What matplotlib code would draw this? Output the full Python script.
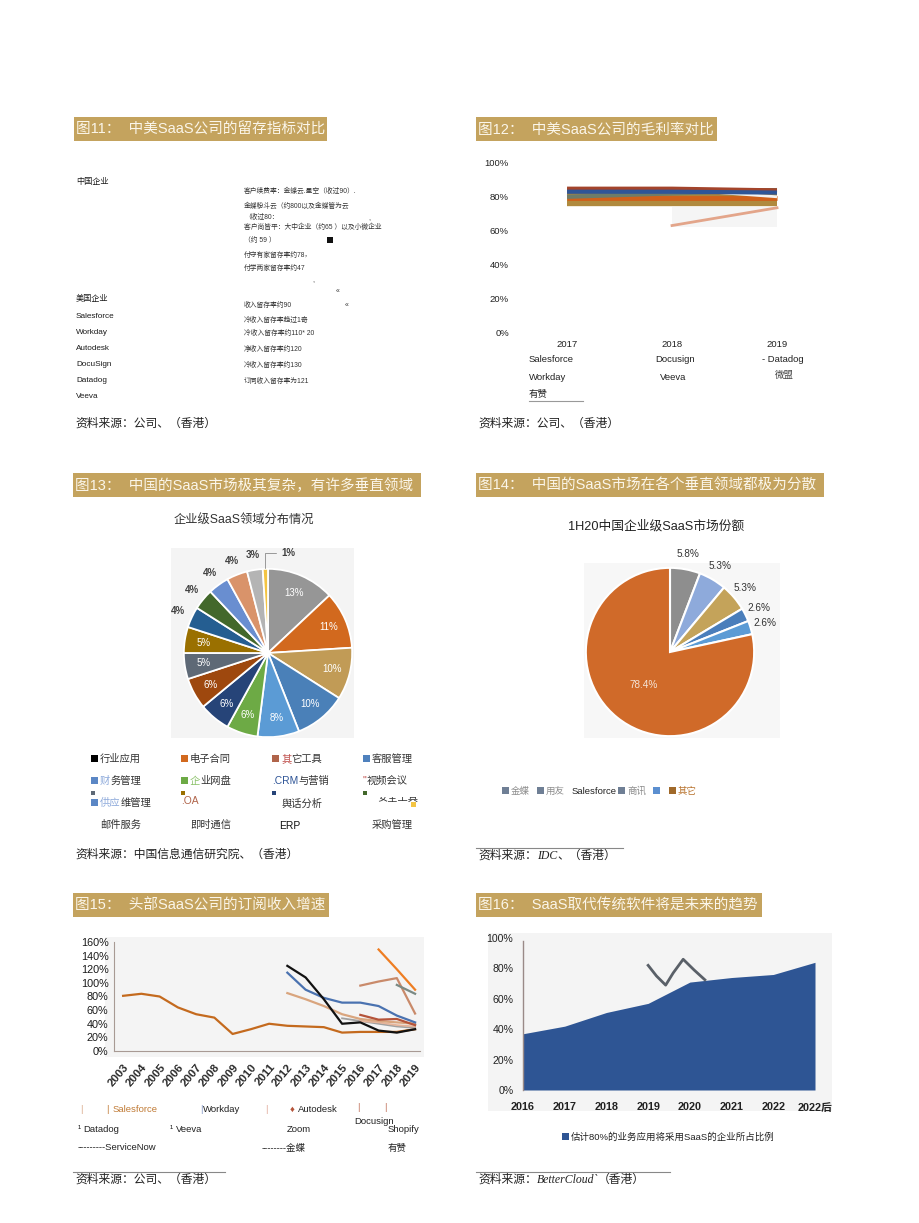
import matplotlib
matplotlib.use('Agg')
import matplotlib.pyplot as plt
from matplotlib.patches import Rectangle
from matplotlib.lines import Line2D
import numpy as np

plt.rcParams['font.family'] = ['Liberation Sans', 'Noto Sans CJK SC', 'DejaVu Sans']

W, H = 920, 1223
fig = plt.figure(figsize=(W / 100, H / 100), dpi=100)
fig.patch.set_facecolor('white')
renderer = fig.canvas.get_renderer()

# ---------------- data ----------------
# Fig 11 (text table)
p11_left = ['中国企业', '美国企业', 'Salesforce', 'Workday', 'Autodesk', 'DocuSign', 'Datadog', 'Veeva']
p11_right = ['客户续费率：金蝶云.星空（收过90）.', '金蝶粉斗云（约800以及金蝶管为云', '（收过80：',
             '客户尚皆平：大中企业（约65 ）以及小微企业', '（约 59 ）', '付守有家留存率约78，', '付学两家留存率约47',
             '收入留存率约90', '冷收入留存率趋过1奇', '冷收入留存率约110* 20', '净收入留存率约120',
             '冷收入留存率约130', '订同收入留存率为121']

# Fig 12 (gross margin, %)
p12_years = [2017, 2018, 2019]
p12_salesforce = [85, 85, 84]
p12_workday = [83, 83, 82.5]
p12_docusign = [80, 82, 84]
p12_veeva = [86, 84.5, 80]
p12_youzan = [79.5, 79.5, 79.5]
p12_weimeng = [77, 77, 77]
p12_datadog = [np.nan, 63, 73.5]
p12_yticks = [0, 20, 40, 60, 80, 100]

# Fig 13 (pie)
p13_labels = ['行业应用', '电子合同', '其它工具', '客服管理', '财务管理', '企业网盘', 'CRM与营销', '视频会议',
              '供应维管理', 'OA', '舆话分析', '安全工具', '邮件服务', '即时通信', 'ERP', '采购管理']
p13_values = [13, 11, 10, 10, 8, 6, 6, 6, 5, 5, 4, 4, 4, 4, 3, 1]

# Fig 14 (pie)
p14_labels = ['金蝶', '用友', 'Salesforce', '商讯', '其他厂商', '其它']
p14_values = [5.8, 5.3, 5.3, 2.6, 2.6, 78.4]

# Fig 15 (subscription revenue growth, %)
p15_salesforce_years = list(range(2003, 2020))
p15_salesforce = [81, 84, 80, 64, 54, 49, 25, 32, 40, 37, 36, 35, 27, 28, 28, 28, 32]
p15_years_b = list(range(2012, 2020))
p15_workday = [115, 90, 78, 71, 71, 66, 52, 42]
p15_servicenow = [125, 108, 76, 40, 42, 30, 27, 32]
p15_autodesk = [85, 76, 66, 54, 47, 44, 42, 40]
p15_years_c = [2017, 2018, 2019]
p15_zoom = [149, 120, 90]
p15_years_d = [2016, 2017, 2018, 2019]
p15_docusign = [96, 102, 107, 55]
p15_shopify = [53, 46, 47, 38]
p15_veeva = [44, 42, 38, 36]
p15_years_e = [2018, 2019]
p15_datadog = [97, 84]
p15_years_f = [2015, 2016, 2017, 2018, 2019]
p15_kingdee = [48, 44, 40, 36, 34]
p15_yticks = [0, 20, 40, 60, 80, 100, 120, 140, 160]

# Fig 16 (area)
p16_cats = ['2016', '2017', '2018', '2019', '2020', '2021', '2022', '2022后']
p16_values = [37, 42, 51, 57, 71, 74, 76, 84]
p16_wave_x = [3.0, 3.2, 3.42, 3.6, 3.84, 4.1, 4.36]
p16_wave_y = [82, 75, 69, 77, 86, 79, 72.5]
p16_yticks = [0, 20, 40, 60, 80, 100]


# ---------------- helpers ----------------
def fx(x):
    return x / W


def fy(y):
    return 1 - y / H


def T(x, y, s, size=7, color='#222222', ha='left', va='center', **kw):
    return fig.text(fx(x), fy(y), s, fontsize=size, color=color, ha=ha, va=va, **kw)


def rect(x0, y0, x1, y1, color, z=0):
    fig.add_artist(Rectangle((fx(x0), fy(y1)), (x1 - x0) / W, (y1 - y0) / H,
                             transform=fig.transFigure, facecolor=color, edgecolor='none', zorder=z))


def seq(x, y, parts, size=7, sq=7, **kw):
    """parts: list of (text, color[, extra-kwargs]); text None draws a square."""
    for p in parts:
        s, c = p[0], p[1]
        extra = dict(kw)
        if len(p) > 2:
            extra.update(p[2])
        if s is None:
            rect(x, y - sq / 2 - 0.5, x + sq, y + sq / 2 - 0.5, c, z=3)
            x += sq + 2
        else:
            t = T(x, y, s, size=size, color=c, **extra)
            x += t.get_window_extent(renderer).width
    return x


def hline(x0, x1, y, color='#999999', lw=0.8):
    fig.add_artist(Line2D([fx(x0), fx(x1)], [fy(y), fy(y)], transform=fig.transFigure, color=color, lw=lw))


def axes_px(x0, y0, x1, y1):
    ax = fig.add_axes([fx(x0), fy(y1), (x1 - x0) / W, (y1 - y0) / H])
    ax.patch.set_alpha(0)
    return ax


SERIF_I = {'family': ['Liberation Serif', 'DejaVu Serif'], 'style': 'italic'}
GOLD = '#C4A35E'
TITLE_FG = '#FBF6EA'
bars = [(74, 117, 327, 141, '图11：  中美SaaS公司的留存指标对比'),
        (476, 117, 717, 141, '图12：  中美SaaS公司的毛利率对比'),
        (73, 473, 421, 497, '图13：  中国的SaaS市场极其复杂，有许多垂直领域'),
        (476, 473, 824, 497, '图14：  中国的SaaS市场在各个垂直领域都极为分散'),
        (73, 893, 329, 917, '图15：  头部SaaS公司的订阅收入增速'),
        (476, 893, 762, 917, '图16：  SaaS取代传统软件将是未来的趋势')]
for x0, y0, x1, y1, s in bars:
    rect(x0, y0, x1, y1, GOLD)
    T(x0 + 2, (y0 + y1) / 2 + 0.5, s, size=10.5, color=TITLE_FG)

# ---------------- Fig 11 ----------------
left_y = [182, 299, 316, 333, 349, 365, 381, 397]
for s, y in zip(p11_left, left_y):
    T(76, y, s, size=5.9, color='#1A1A1A')
right_y = [191, 206, 217, 227, 240, 255, 268, 305, 320, 333, 349, 365, 381]
for s, y in zip(p11_right, right_y):
    T(244, y, s, size=4.9, color='#333333')
T(368, 219, ',', size=5, color='#333333')
rect(327, 237, 333, 243, '#111111')
T(312, 281, ',', size=5, color='#333333')
T(336, 292, '«', size=5, color='#333333')
T(345, 306, '«', size=5, color='#333333')
T(75, 424, '资料来源：公司、（香港）', size=8.5, color='#222222')

# ---------------- Fig 12 ----------------
ax12 = axes_px(520, 163, 800, 332)
ax12.set_xlim(2016.552, 2019.219)
ax12.set_ylim(0, 100)
ax12.fill_between([2018, 2019], 62, 74, color='#F5F5F5', lw=0, zorder=1)
ax12.fill_between(p12_years, 75, 85, color='#A8843F', lw=0, zorder=2)
ax12.plot(p12_years, p12_weimeng, color='#B08A3E', lw=6, zorder=3, solid_capstyle='butt')
ax12.plot(p12_years, p12_youzan, color='#D0601A', lw=3.5, zorder=4, solid_capstyle='butt')
ax12.plot(p12_years, p12_docusign, color='#6E7C68', lw=3, zorder=5, solid_capstyle='butt')
ax12.plot(p12_years[1:], p12_veeva[1:], color='#F2F2F2', lw=2, zorder=6, solid_capstyle='butt')
ax12.plot(p12_years, p12_workday, color='#2F5597', lw=3, zorder=7, solid_capstyle='butt')
ax12.plot(p12_years, p12_salesforce, color='#A3442B', lw=2.5, zorder=6, solid_capstyle='butt')
ax12.plot(p12_years, p12_datadog, color='#E3A58A', lw=2, zorder=5)
ax12.set_yticks(p12_yticks)
ax12.set_yticklabels([f'{v}%' for v in p12_yticks], fontsize=6.8, color='#222222')
ax12.set_xticks(p12_years)
ax12.set_xticklabels([str(v) for v in p12_years], fontsize=6.8, color='#222222')
ax12.tick_params(length=0, pad=8)
ax12.tick_params(axis='x', pad=6)
for s in ax12.spines.values():
    s.set_visible(False)
T(529, 360, 'Salesforce', size=6.8)
T(529, 378, 'Workday', size=6.8)
T(529, 394, '有赞', size=6.8)
hline(529, 583, 401, color='#999999', lw=0.8)
T(655, 360, 'Docusign', size=6.8)
T(660, 377, 'Veeva', size=6.8)
T(762, 359, '- Datadog', size=6.8)
T(775, 375, '微盟', size=6.8, color='#444444')
T(478, 424, '资料来源：公司、（香港）', size=8.5, color='#222222')

# ---------------- Fig 13 ----------------
T(244, 521, '企业级SaaS领域分布情况', size=8.8, color='#333333', ha='center')
rect(171, 548, 354, 738, '#F4F4F4')
p13_colors = ['#969696', '#D2691E', '#C19B56', '#4A80B8', '#5B9BD5', '#6DAA45', '#264478', '#9E480E',
              '#5E6976', '#9A7000', '#255E91', '#43682B', '#698ED0', '#D9936A', '#B4B4B4', '#F3C443']
ax13 = axes_px(183, 568, 353, 738)
ax13.pie(p13_values, colors=p13_colors, startangle=90, counterclock=False, radius=1,
         wedgeprops=dict(edgecolor='white', linewidth=1.3))
ax13.set_xlim(-1.01, 1.01)
ax13.set_ylim(-1.01, 1.01)
ax13.set_aspect('equal')
v13 = np.array(p13_values, dtype=float)
mid13 = np.deg2rad(90 - (np.cumsum(v13) - v13 / 2) / v13.sum() * 360)
for i, (v, a) in enumerate(zip(p13_values, mid13)):
    if v >= 5:
        ax13.text(0.78 * np.cos(a), 0.78 * np.sin(a), f'{v}%', ha='center', va='center',
                  fontsize=7, color='white')
    elif v > 1:
        ax13.text(1.18 * np.cos(a), 1.18 * np.sin(a), f'{v}%', ha='center', va='center',
                  fontsize=7, color='#404040', fontweight='bold')
    else:
        ax13.annotate(f'{v}%', xy=(0.98 * np.cos(a), 0.98 * np.sin(a)), xytext=(0.24, 1.19),
                      ha='center', va='center', fontsize=7, color='#404040', fontweight='bold',
                      arrowprops=dict(arrowstyle='-', color='#999999', lw=0.7,
                                      connectionstyle='angle,angleA=0,angleB=90,rad=0'))

LS = 7.4
seq(91, 759, [(None, '#000000'), ('行业应用', '#333333')], size=LS)
seq(181, 759, [(None, '#D2691E'), ('电子合同', '#333333')], size=LS)
seq(272, 759, [(None, '#B0644A'), ('其', '#C0504D'), ('它工具', '#333333')], size=LS)
seq(363, 759, [(None, '#4F81BD'), ('客服管理', '#333333')], size=LS)
seq(91, 781, [(None, '#5B87C5'), ('财', '#8EAADB'), ('务管理', '#333333')], size=LS)
seq(181, 781, [(None, '#6DAA45'), ('企', '#8CC26A'), ('业网盘', '#333333')], size=LS)
seq(272, 781, [('.CRM', '#2F5597'), ('与营销', '#333333')], size=LS)
seq(363, 781, [('"', '#C0504D'), ('视频会议', '#333333')], size=LS)
rect(91, 791, 95, 795, '#5E6976')
rect(181, 791, 185, 795, '#9A7000')
rect(272, 791, 276, 795, '#264478')
rect(363, 791, 367, 795, '#43682B')
seq(91, 803, [(None, '#5B87C5'), ('供应', '#8EAADB'), ('维管理', '#333333')], size=LS)
T(181, 801, '.OA', size=LS, color='#B0644A')
T(281, 804, '舆话分析', size=LS, color='#333333')
T(377, 799, '安全工具', size=LS, color='#333333')
rect(374, 788, 418, 797, 'white', z=5)
rect(411, 802, 416, 807, '#F3C443', z=6)
T(100, 825, '邮件服务', size=LS, color='#333333')
T(190, 825, '即时通信', size=LS, color='#333333')
T(279, 826, 'ERP', size=LS, color='#111111')
T(372, 825, '采购管理', size=LS, color='#333333')
T(75, 855, '资料来源：中国信息通信研究院、（香港）', size=8.5, color='#222222')

# ---------------- Fig 14 ----------------
T(656, 526, '1H20中国企业级SaaS市场份额', size=9.2, color='#222222', ha='center')
rect(584, 563, 780, 738, '#F7F7F7')
p14_colors = ['#8E8E8E', '#8EAADB', '#C4A35A', '#4A7EBB', '#5B9BD5', '#D06A29']
ax14 = axes_px(585, 567, 755, 737)
ax14.pie(p14_values, colors=p14_colors, startangle=90, counterclock=False, radius=1,
         wedgeprops=dict(edgecolor='white', linewidth=1.5))
ax14.set_xlim(-1.01, 1.01)
ax14.set_ylim(-1.01, 1.01)
ax14.set_aspect('equal')
v14 = np.array(p14_values)
mid14 = np.deg2rad(90 - (np.cumsum(v14) - v14 / 2) / v14.sum() * 360)
for v, a in zip(p14_values, mid14):
    if v > 50:
        ax14.text(0.5 * np.cos(a), 0.5 * np.sin(a), f'{v}%', ha='center', va='center',
                  fontsize=7.2, color='#F4E3D6')
    else:
        ax14.text(1.18 * np.cos(a), 1.18 * np.sin(a), f'{v}%', ha='center', va='center',
                  fontsize=7.2, color='#333333')
seq(502, 791, [(None, '#6F7F95'), ('金蝶', '#8C8C8C')], size=6.8)
seq(537, 791, [(None, '#6F7F95'), ('用友', '#8C8C8C')], size=6.8)
T(572, 791, 'Salesforce', size=6.8, color='#222222')
seq(618, 791, [(None, '#6F7F95'), ('商讯', '#8C8C8C')], size=6.8)
rect(653, 787, 660, 794, '#5B8FD0')
seq(669, 791, [(None, '#A0692A'), ('其它', '#B8732E')], size=6.8)
hline(476, 623, 848, color='#888888', lw=0.8)
seq(478, 856, [('资料来源：', '#222222'), ('IDC', '#222222', SERIF_I), ('、（香港）', '#222222')], size=8.5)

# ---------------- Fig 15 ----------------
rect(105, 937, 424, 1057, '#F4F4F4')
ax15 = axes_px(114, 942, 420, 1051)
ax15.set_xlim(2002.5, 2019.27)
ax15.set_ylim(0, 160)
ax15.plot(p15_salesforce_years, p15_salesforce, color='#C46A1E', lw=1.6)
ax15.plot(p15_years_f, p15_kingdee, color='#A0A0A0', lw=1.3)
ax15.plot(p15_years_d, p15_veeva, color='#E6B49A', lw=1.3)
ax15.plot(p15_years_b, p15_autodesk, color='#D9A57E', lw=1.6)
ax15.plot(p15_years_b, p15_workday, color='#4A72B0', lw=1.6)
ax15.plot(p15_years_b, p15_servicenow, color='#111111', lw=1.6)
ax15.plot(p15_years_d, p15_shopify, color='#B5543A', lw=1.6)
ax15.plot(p15_years_d, p15_docusign, color='#C98A6A', lw=1.6)
ax15.plot(p15_years_e, p15_datadog, color='#7B8A84', lw=1.6)
ax15.plot(p15_years_c, p15_zoom, color='#EE7D22', lw=1.6)
ax15.set_yticks(p15_yticks)
ax15.set_yticklabels([f'{v}%' for v in p15_yticks], fontsize=7.8, color='#1A1A1A')
ax15.set_xticks(p15_salesforce_years)
ax15.set_xticklabels([str(v) for v in p15_salesforce_years], fontsize=8.2, color='#2A2A2A',
                     fontweight='bold', rotation=50, ha='right', rotation_mode='anchor')
ax15.tick_params(length=0, pad=4)
ax15.tick_params(axis='x', pad=8)
for k in ['top', 'right']:
    ax15.spines[k].set_visible(False)
for k in ['left', 'bottom']:
    ax15.spines[k].set_color('#A89A94')
    ax15.spines[k].set_linewidth(0.8)

L15 = 6.8
T(80, 1109, '|', size=L15, color='#D9A98A')
seq(107, 1109, [('| ', '#C07A35'), ('Salesforce', '#C07A35')], size=L15)
seq(200, 1109, [('|', '#8096C4'), ('Workday', '#222222')], size=L15)
T(265, 1109, '|', size=L15, color='#E0A898')
seq(290, 1109, [('♦ ', '#B5543A'), ('Autodesk', '#222222')], size=L15)
T(357, 1108, '|', size=L15, color='#C0705A')
T(384, 1108, '|', size=L15, color='#C0705A')
seq(78, 1129, [('¹ ', '#222222'), ('Datadog', '#222222')], size=L15)
seq(170, 1129, [('¹ ', '#222222'), ('Veeva', '#222222')], size=L15)
T(287, 1129, 'Zoom', size=L15)
T(354, 1121, 'Docusign', size=L15)
T(388, 1129, 'Shopify', size=L15)
T(78, 1148, '---------ServiceNow', size=L15)
T(262, 1148, '--------金蝶', size=L15)
T(388, 1148, '有赞', size=L15)
hline(73, 225, 1172, color='#888888', lw=0.8)
T(75, 1180, '资料来源：公司、（香港）', size=8.5, color='#222222')

# ---------------- Fig 16 ----------------
rect(488, 933, 832, 1111, '#F4F4F4')
ax16 = axes_px(523, 938, 815, 1090)
xs = np.arange(len(p16_cats))
ax16.set_xlim(0, len(p16_cats) - 1)
ax16.set_ylim(0, 100)
ax16.fill_between(xs, 0, p16_values, color='#2E5594', lw=0)
ax16.plot(p16_wave_x, p16_wave_y, color='#5A6068', lw=2)
ax16.set_yticks(p16_yticks)
ax16.set_yticklabels([f'{v}%' for v in p16_yticks], fontsize=7.6, color='#222222')
ax16.set_xticks(xs)
ax16.set_xticklabels(p16_cats, fontsize=7.8, color='#222222', fontweight='bold')
ax16.tick_params(length=0, pad=7)
ax16.tick_params(axis='x', pad=9)
for k in ['top', 'right', 'bottom']:
    ax16.spines[k].set_visible(False)
ax16.spines['left'].set_color('#9A8A88')
ax16.spines['left'].set_linewidth(1)
ax16.spines['left'].set_bounds(0, 98)
seq(562, 1137, [(None, '#2E5594'), ('估计80%的业务应用将采用SaaS的企业所占比例', '#222222')], size=6.8)
hline(476, 670, 1172, color='#888888', lw=0.8)
seq(478, 1180, [('资料来源：', '#222222'), ('BetterCloud`', '#222222', SERIF_I), ('（香港）', '#222222')], size=8.5)

fig.savefig('out.png', dpi=100, facecolor='white')
